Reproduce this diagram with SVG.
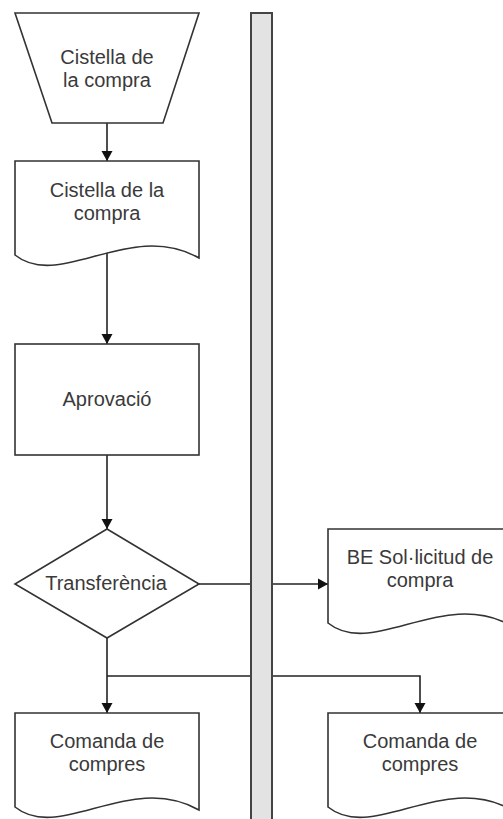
<svg xmlns="http://www.w3.org/2000/svg" width="503" height="819" viewBox="0 0 503 819">
<style>
.shape{fill:#ffffff;stroke:#333333;stroke-width:1.6}
.lbl{font-family:"Liberation Sans",Arial,sans-serif;font-size:20px;fill:#3a3a3a;text-anchor:middle}
.conn{fill:none;stroke:#222222;stroke-width:1.6}
.bar{fill:#e3e3e3;stroke:#444444;stroke-width:2}
</style>
<defs>
<marker id="arr" markerUnits="userSpaceOnUse" markerWidth="11" markerHeight="12" refX="10" refY="6" orient="auto">
<path d="M0,0.5 L10,6 L0,11.5 Z" fill="#111111"/>
</marker>
<path id="docShape" d="M0,0 H184 V97 C115,58 45,130 0,94 Z"/>
</defs>
<rect width="503" height="819" fill="#ffffff"/>

<g id="connectors">
<path class="conn" d="M107,123 V161" marker-end="url(#arr)"/>
<path class="conn" d="M107,252 V344" marker-end="url(#arr)"/>
<path class="conn" d="M107,455 V529" marker-end="url(#arr)"/>
<path class="conn" d="M199,584 H328" marker-end="url(#arr)"/>
<path class="conn" d="M107,638 V713" marker-end="url(#arr)"/>
<path class="conn" d="M107,676 H420 V713" marker-end="url(#arr)"/>
</g>

<g id="lane-bar">
<rect class="bar" x="251" y="13" width="21" height="820"/>
</g>

<g id="node-cistella-input">
<path class="shape" d="M15,13 H199 L163,123 H52 Z"/>
<text class="lbl" x="107" y="64">Cistella de</text>
<text class="lbl" x="107" y="87">la compra</text>
</g>

<g id="node-cistella-doc">
<use href="#docShape" class="shape" x="15" y="161"/>
<text class="lbl" x="107" y="197">Cistella de la</text>
<text class="lbl" x="107" y="220">compra</text>
</g>

<g id="node-aprovacio">
<rect class="shape" x="15" y="344" width="184" height="111"/>
<text class="lbl" x="107" y="406">Aprovació</text>
</g>

<g id="node-transferencia">
<path class="shape" d="M107,529 L199,584 L107,638 L15,584 Z"/>
<text class="lbl" x="106" y="590">Transferència</text>
</g>

<g id="node-be-sollicitud">
<use href="#docShape" class="shape" x="328" y="529"/>
<text class="lbl" x="420" y="564">BE Sol·licitud de</text>
<text class="lbl" x="420" y="587">compra</text>
</g>

<g id="node-comanda-left">
<use href="#docShape" class="shape" x="15" y="713"/>
<text class="lbl" x="107" y="748">Comanda de</text>
<text class="lbl" x="107" y="771">compres</text>
</g>

<g id="node-comanda-right">
<use href="#docShape" class="shape" x="328" y="713"/>
<text class="lbl" x="420" y="748">Comanda de</text>
<text class="lbl" x="420" y="771">compres</text>
</g>
</svg>
